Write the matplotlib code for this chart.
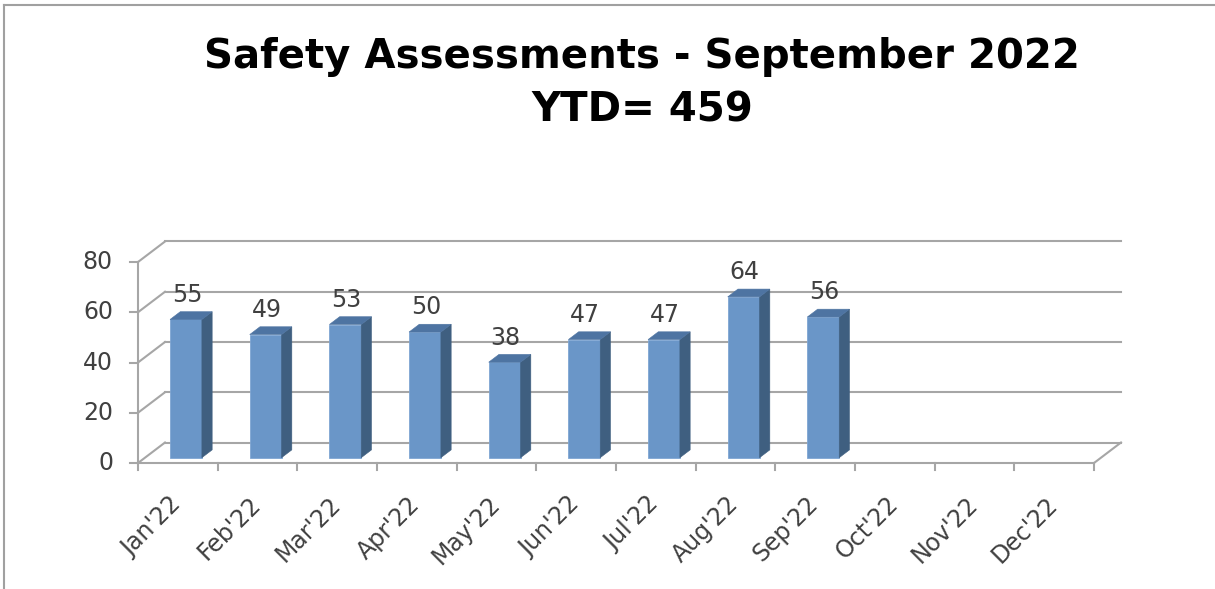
import matplotlib
matplotlib.use("Agg")
import matplotlib.pyplot as plt
from matplotlib.patches import Polygon
from matplotlib.lines import Line2D

# data
months = ["Jan'22", "Feb'22", "Mar'22", "Apr'22", "May'22", "Jun'22",
          "Jul'22", "Aug'22", "Sep'22", "Oct'22", "Nov'22", "Dec'22"]
assessments = [55, 49, 53, 50, 38, 47, 47, 64, 56]
y_ticks = [0, 20, 40, 60, 80]
title_line1 = "Safety Assessments - September 2022"
title_line2 = "YTD= 459"

W, H = 1215, 589
fig = plt.figure(figsize=(W / 100, H / 100), dpi=100)
fig.patch.set_facecolor("white")

# front plane of the 3d box, in pixels
left_px, right_px = 138, 1094
bottom_px, top_px = 463, 262
ax = fig.add_axes([left_px / W, 1 - bottom_px / H,
                   (right_px - left_px) / W, (bottom_px - top_px) / H])
n = len(months)
ax.set_xlim(0, n)
ax.set_ylim(0, 80)
ax.axis("off")

# depth offset of the back wall (pixels -> data units)
px_x = n / (right_px - left_px)
px_y = 80 / (bottom_px - top_px)
DX = 27 * px_x
DY = 20.5 * px_y


def P(x, y, d):
    return (x + d * DX, y + d * DY)


grid_col = "#a6a6a6"
txt_col = "#404040"
lw = 1.5

# back wall + side wall lines
for v in y_ticks:
    a, b = P(0, v, 1), P(n, v, 1)
    ax.plot([a[0], b[0]], [a[1], b[1]], color=grid_col, lw=lw, clip_on=False, zorder=1)
    a, b = P(0, v, 0), P(0, v, 1)
    ax.plot([a[0], b[0]], [a[1], b[1]], color=grid_col, lw=lw, clip_on=False, zorder=1)

# floor edges
ax.plot([0, n], [0, 0], color=grid_col, lw=lw, clip_on=False, zorder=1)
a, b = P(n, 0, 0), P(n, 0, 1)
ax.plot([a[0], b[0]], [a[1], b[1]], color=grid_col, lw=lw, clip_on=False, zorder=1)
# front value axis
ax.plot([0, 0], [0, 80], color=grid_col, lw=lw, clip_on=False, zorder=1)

# ticks
for v in y_ticks:
    ax.plot([-8 * px_x, 0], [v, v], color=grid_col, lw=lw, clip_on=False)
    ax.annotate(str(v), (0, v), xytext=(-25 * 0.72, 0), textcoords="offset points",
                ha="right", va="center", fontsize=17, color=txt_col,
                family="DejaVu Sans", annotation_clip=False)
for i in range(n + 1):
    ax.plot([i, i], [0, -7 * px_y], color=grid_col, lw=lw, clip_on=False)

for i, m in enumerate(months):
    ax.annotate(m, (i + 0.5, 0), xytext=(-9 * 0.72, -29 * 0.72), textcoords="offset points",
                ha="right", va="top", rotation=45, rotation_mode="anchor",
                fontsize=17, color=txt_col, family="DejaVu Sans", annotation_clip=False)

# 3d bars
front_col, side_col, top_col = "#6a96c8", "#3f5f80", "#4e74a2"
bw = 0.40
off = 0.314
d0, d1 = 0.26, 0.64
for i, v in enumerate(assessments):
    x0 = i + off
    x1 = x0 + bw
    front = [P(x0, 0, d0), P(x1, 0, d0), P(x1, v, d0), P(x0, v, d0)]
    side = [P(x1, 0, d0), P(x1, 0, d1), P(x1, v, d1), P(x1, v, d0)]
    top = [P(x0, v, d0), P(x1, v, d0), P(x1, v, d1), P(x0, v, d1)]
    ax.add_patch(Polygon(front, closed=True, facecolor=front_col, edgecolor="#7fa6d3",
                         lw=0.6, clip_on=False, zorder=3))
    ax.add_patch(Polygon(side, closed=True, facecolor=side_col, edgecolor=side_col,
                         lw=0.4, clip_on=False, zorder=3))
    ax.add_patch(Polygon(top, closed=True, facecolor=top_col, edgecolor=top_col,
                         lw=0.4, clip_on=False, zorder=3))
    ax.annotate(str(v), (x0 + bw / 2 + 0.1, v), xytext=(0, 23 * 0.72),
                textcoords="offset points", ha="center", va="baseline",
                fontsize=17, color=txt_col, family="DejaVu Sans",
                annotation_clip=False, zorder=4)

# title
fig.text(642 / W, 1 - 68 / H, title_line1, ha="center", va="baseline",
         fontsize=29, fontweight="bold", color="black", family="DejaVu Sans")
fig.text(642 / W, 1 - 122 / H, title_line2, ha="center", va="baseline",
         fontsize=29, fontweight="bold", color="black", family="DejaVu Sans")

# chart border (top and left edges visible)
fig.add_artist(Line2D([4 / W, 4 / W], [0, 1 - 5 / H], color="#a0a0a0", lw=1.5))
fig.add_artist(Line2D([4 / W, 1], [1 - 5 / H, 1 - 5 / H], color="#a0a0a0", lw=1.5))

fig.savefig("out.png", dpi=100, facecolor="white")
